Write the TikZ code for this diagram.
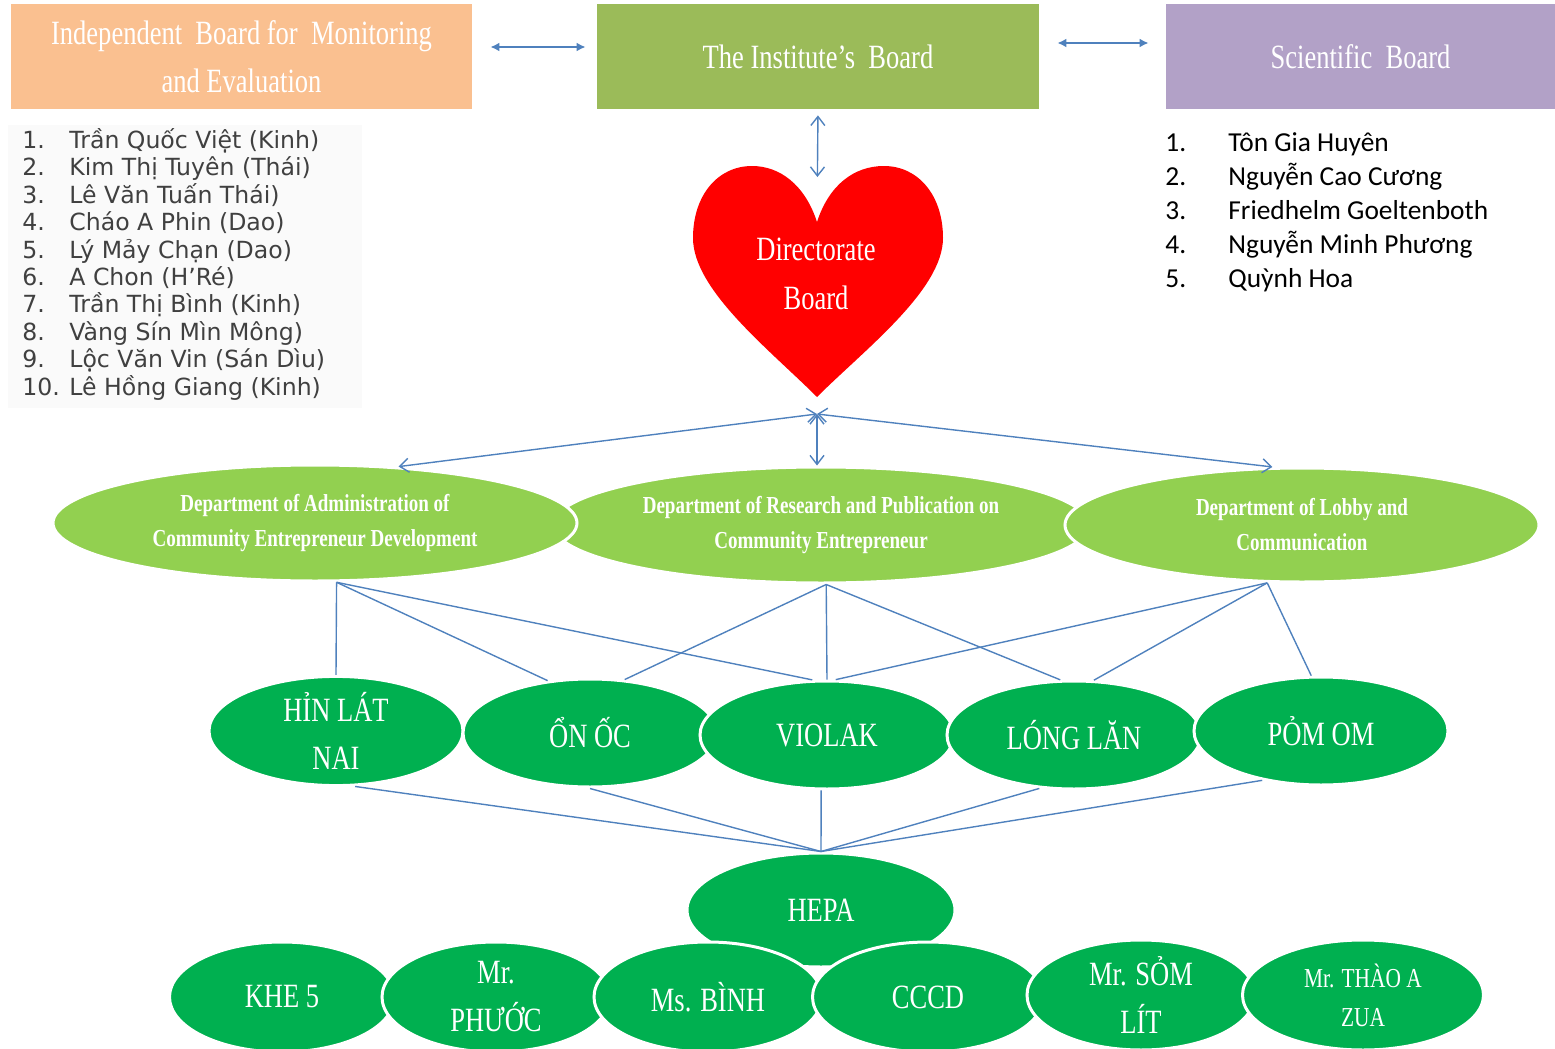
\documentclass[tikz,border=0pt]{standalone}
\usepackage{fontspec}
\setmainfont{Liberation Serif}[FakeStretch=0.78]
\newfontfamily\listfont{DejaVu Sans}
\newfontfamily\namefont{Carlito}
\usetikzlibrary{shapes.geometric, arrows.meta, positioning}

\definecolor{boardorange}{HTML}{FAC090}
\definecolor{boardgreen}{HTML}{9BBB59}
\definecolor{boardpurple}{HTML}{B2A1C7}
\definecolor{heartred}{HTML}{FF0000}
\definecolor{deptgreen}{HTML}{92D050}
\definecolor{sitegreen}{HTML}{00B050}
\definecolor{linkblue}{HTML}{4F81BD}

\tikzset{
    board/.style={rectangle, inner sep=0pt, minimum height=52.5pt,
        text=white, align=center, font=\fontsize{17}{24}\selectfont},
    dept/.style={ellipse, inner sep=0pt, fill=deptgreen, draw=white,
        line width=1.5pt, text=white, align=center,
        font=\bfseries\fontsize{12.2}{17.5}\selectfont},
    site/.style={ellipse, inner sep=0pt, fill=sitegreen, draw=white,
        line width=1.5pt, text=white, align=center,
        minimum width=127pt, minimum height=54pt,
        font=\fontsize{17}{24}\selectfont},
    listtext/.style={anchor=base west, inner sep=0pt, text=black!75,
        font=\listfont\fontsize{11.8}{13}\selectfont},
    memtext/.style={anchor=base west, inner sep=0pt, text=black,
        font=\namefont\fontsize{13.7}{16}\selectfont},
    link/.style={draw=linkblue, line width=0.7pt},
    biarrow/.style={draw=linkblue, line width=1pt,
        arrows={Latex[length=4.5pt,width=4.5pt]-Latex[length=4.5pt,width=4.5pt]}},
    openarrow/.style={draw=linkblue, line width=0.7pt,
        arrows={Straight Barb[length=4.5pt,width=7pt]-Straight Barb[length=4.5pt,width=7pt]}},
}

\begin{document}
\begin{tikzpicture}[x=0.5pt, y=-0.5pt]
    \useasboundingbox (0,0) rectangle (1555,1049);

    % boards on top
    \node[board, fill=boardorange, minimum width=230.5pt] (mon) at (241.5,56.5)
        {Independent\ \ Board for\ \ Monitoring\\and Evaluation};
    \node[board, fill=boardgreen, minimum width=221pt] (inst) at (818,56.5)
        {The Institute's\ \ Board};
    \node[board, fill=boardpurple, minimum width=194.5pt] (sci) at (1360.5,56.5)
        {Scientific\ \ Board};

    % members
    \fill[black!2] (8,125) rectangle (362,408);
    \foreach \who [count=\i] in {{Trần Quốc Việt (Kinh)}, {Kim Thị Tuyên (Thái)},
        {Lê Văn Tuấn Thái)}, {Cháo A Phin (Dao)}, {Lý Mảy Chạn (Dao)},
        {A Chon (H’Ré)}, {Trần Thị Bình (Kinh)}, {Vàng Sín Mìn Mông)},
        {Lộc Văn Vin (Sán Dìu)}, {Lê Hồng Giang (Kinh)}} {
        \node[listtext] (mnum\i) at (22,{121.1+27.4*\i}) {\i.};
        \node[listtext] (mname\i) at (69,{121.1+27.4*\i}) {\who};
    }
    \foreach \who [count=\i] in {{Tôn Gia Huyên}, {Nguyễn Cao Cương},
        {Friedhelm Goeltenboth}, {Nguyễn Minh Phương}, {Quỳnh Hoa}} {
        \node[memtext] (snum\i) at (1165,{117+34*\i}) {\i.};
        \node[memtext] (sname\i) at (1228,{117+34*\i}) {\who};
    }

    % heart
    \coordinate (heartnotch) at (817,222);
    \coordinate (hearttip) at (817,397);
    \fill[heartred] (heartnotch) .. controls (805,185) and (780,166) .. (752,166)
        .. controls (718,166) and (693,195) .. (693,238)
        .. controls (693,290) and (770,350) .. (hearttip)
        .. controls (864,350) and (943,290) .. (943,238)
        .. controls (943,195) and (918,166) .. (884,166)
        .. controls (854,166) and (829,185) .. (heartnotch) -- cycle;
    \node[text=white, align=center, font=\fontsize{17}{24.5}\selectfont] (dir) at (816,273.5)
        {Directorate\\Board};
    \coordinate[below=8.5pt of hearttip] (hub);

    % departments
    \node[dept, minimum width=268pt, minimum height=58pt] (res) at (821,525)
        {Department of Research and Publication on\\Community Entrepreneur};
    \node[dept, minimum width=262pt, minimum height=58pt] (admin) at (315,523)
        {Department of Administration of\\Community Entrepreneur Development};
    \node[dept, minimum width=237pt, minimum height=57pt] (lobby) at (1302,525)
        {Department of Lobby and\\Communication};

    % sites
    \node[site] (hin) at (336,731) {HỈN LÁT\\NAI};
    \node[site] (onoc) at (590,733) {ỔN ỐC};
    \node[site] (violak) at (827,735) {VIOLAK};
    \node[site] (long) at (1074,735) {LÓNG LĂN};
    \node[site] (pom) at (1321,731) {PỎM OM};

    \node[site, minimum width=134pt, minimum height=57pt] (hepa) at (821,910) {HEPA};
    \node[site, minimum width=112.5pt, minimum height=55pt] (khe) at (282,997) {KHE\ 5};
    \node[site, minimum width=114pt, minimum height=55pt] (phuoc) at (496,997) {Mr.\\PHƯỚC};
    \node[site, minimum width=114pt, minimum height=55pt] (binh) at (708,997) {Ms. BÌNH};
    \node[site, minimum width=115.5pt, minimum height=55pt] (cccd) at (928,997) {CCCD};
    \node[site, minimum width=114pt, minimum height=55pt] (som) at (1141,995) {Mr. SỎM\\LÍT};
    \node[site, minimum width=120.5pt, minimum height=55pt,
        font=\fontsize{13.7}{19.5}\selectfont] (thao) at (1363,995) {Mr. THÀO A\\ZUA};

    % arrows between boards
    \draw[biarrow, shorten <=9pt, shorten >=5.5pt] ([yshift=4.75pt]mon.east) -- ([yshift=4.75pt]inst.west);
    \draw[biarrow, shorten <=9pt, shorten >=8.5pt] ([yshift=6.75pt]inst.east) -- ([yshift=6.75pt]sci.west);
    \draw[openarrow, shorten <=3pt, shorten >=22.5pt] (inst.south) -- (heartnotch);

    % directorate to departments
    \draw[openarrow] (hub) -- (admin.34);
    \draw[openarrow] (hub) -- (hub |- res.north);
    \draw[openarrow] (hub) -- (lobby.117);

    % departments to sites
    \draw[link] (admin.-70) -- (hin.north);
    \draw[link] (admin.-70) -- (onoc.129);
    \draw[link] (admin.-70) -- (violak.105);
    \draw[link] (res.-85) -- (onoc.57);
    \draw[link] (res.-85) -- (violak.north);
    \draw[link] (res.-85) -- (long.104);
    \draw[link] (lobby.-121) -- (violak.81);
    \draw[link] (lobby.-121) -- (long.70);
    \draw[link] (lobby.-121) -- (pom.100);

    % sites to HEPA
    \draw[link] (hin.-71) -- (hepa.north);
    \draw[link] (onoc.south) -- (hepa.north);
    \draw[link] (violak.-96) -- (hepa.north);
    \draw[link] (long.-123) -- (hepa.north);
    \draw[link] (pom.-140) -- (hepa.north);
\end{tikzpicture}
\end{document}
